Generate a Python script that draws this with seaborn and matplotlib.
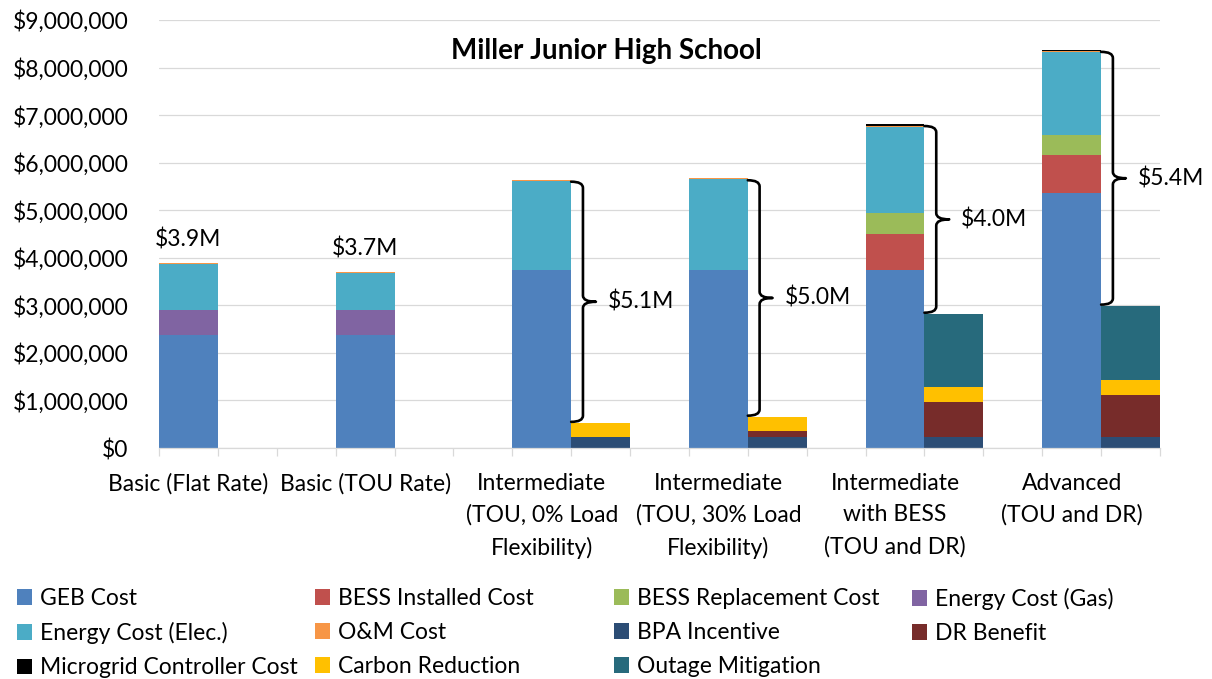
import numpy as np
import pandas as pd
import matplotlib
matplotlib.use("Agg")
import matplotlib.pyplot as plt
import seaborn as sns
from matplotlib.patches import Patch, PathPatch
from matplotlib.path import Path
from matplotlib.ticker import FuncFormatter

# ---------------- data (values in $ millions) ----------------
categories = [
    "Basic (Flat Rate)",
    "Basic (TOU Rate)",
    "Intermediate\n(TOU, 0% Load\nFlexibility)",
    "Intermediate\n(TOU, 30% Load\nFlexibility)",
    "Intermediate\nwith BESS\n(TOU and DR)",
    "Advanced\n(TOU and DR)",
]
title = "Miller Junior High School"

# cost stack (bottom -> top)
geb_cost = [2.376, 2.376, 3.74, 3.74, 3.74, 5.36]
bess_installed = [0, 0, 0, 0, 0.77, 0.80]
bess_replacement = [0, 0, 0, 0, 0.43, 0.42]
energy_gas = [0.52, 0.52, 0, 0, 0, 0]
energy_elec = [0.975, 0.78, 1.88, 1.91, 1.82, 1.74]
om_cost = [0.02, 0.02, 0.02, 0.02, 0.02, 0.02]
microgrid = [0, 0, 0, 0, 0.03, 0.03]

# benefit stack (bottom -> top)
bpa_incentive = [0, 0, 0.24, 0.24, 0.225, 0.225]
dr_benefit = [0, 0, 0, 0.12, 0.75, 0.90]
carbon_reduction = [0, 0, 0.29, 0.30, 0.31, 0.31]
outage_mitigation = [0, 0, 0, 0, 1.54, 1.56]

colors = {
    "GEB Cost": "#4F81BD",
    "BESS Installed Cost": "#C0504D",
    "BESS Replacement Cost": "#9BBB59",
    "Energy Cost (Gas)": "#8064A2",
    "Energy Cost (Elec.)": "#4BACC6",
    "O&M Cost": "#F79646",
    "BPA Incentive": "#2C4D75",
    "DR Benefit": "#772C2A",
    "Microgrid Controller Cost": "#000000",
    "Carbon Reduction": "#FFC000",
    "Outage Mitigation": "#276A7C",
}

cost_layers = [
    ("GEB Cost", geb_cost),
    ("BESS Installed Cost", bess_installed),
    ("BESS Replacement Cost", bess_replacement),
    ("Energy Cost (Gas)", energy_gas),
    ("Energy Cost (Elec.)", energy_elec),
    ("O&M Cost", om_cost),
    ("Microgrid Controller Cost", microgrid),
]
benefit_layers = [
    ("BPA Incentive", bpa_incentive),
    ("DR Benefit", dr_benefit),
    ("Carbon Reduction", carbon_reduction),
    ("Outage Mitigation", outage_mitigation),
]

# ---------------- style ----------------
sns.set_theme(style="white")
plt.rcParams["font.family"] = ["Lato", "DejaVu Sans"]
plt.rcParams["text.color"] = "#000000"
FS = 16.5

fig = plt.figure(figsize=(12.12, 6.79), dpi=100)
ax = fig.add_axes([159 / 1212, 1 - 448 / 679, 1001 / 1212, 428 / 679])

n = len(categories)
cost_x = np.arange(n) * 3 + 0.5
ben_x = cost_x + 1.0


def draw_stack(xpos, layers):
    cum = np.zeros(n)
    cums = []
    for name, vals in layers:
        cum = cum + np.asarray(vals, dtype=float) * 1e6
        cums.append((cum.copy(), colors[name]))
    for c, col in reversed(cums):
        df = pd.DataFrame({"x": xpos, "y": c})
        sns.barplot(data=df, x="x", y="y", native_scale=True, width=1 / 3,
                    color=col, saturation=1, errorbar=None, linewidth=0,
                    ax=ax)
    return cum


cost_tot = draw_stack(cost_x, cost_layers)
ben_tot = draw_stack(ben_x, benefit_layers)

ax.set_xlim(0, 17)
ax.set_ylim(0, 9e6)
ax.set_xlabel("")
ax.set_ylabel("")

# axes styling
for s in ["top", "right", "left"]:
    ax.spines[s].set_visible(False)
ax.spines["bottom"].set_color("#D9D9D9")
ax.spines["bottom"].set_linewidth(0.9)

ax.set_yticks(np.arange(0, 10) * 1e6)
ax.yaxis.set_major_formatter(FuncFormatter(lambda v, p: "${:,.0f}".format(v)))
ax.tick_params(axis="y", length=0, pad=22, labelsize=FS, labelcolor="#000000")
ax.yaxis.grid(True, color="#D9D9D9", linewidth=0.9)
ax.xaxis.grid(False)
ax.set_axisbelow(True)

ax.set_xticks(cost_x)
ax.set_xticklabels(categories)
ax.set_xticks(np.arange(0, 18), minor=True)
ax.tick_params(axis="x", which="major", length=0, pad=18, labelsize=FS,
               labelcolor="#000000")
ax.tick_params(axis="x", which="minor", bottom=True, length=6, width=0.9,
               color="#D9D9D9", direction="out")
for t in ax.get_xticklabels():
    t.set_linespacing(1.6)

# ---------------- net value annotations ----------------
for g in range(n):
    net = cost_tot[g] - ben_tot[g]
    lab = "${:.1f}M".format(net / 1e6)
    if ben_tot[g] <= 0:
        ax.annotate(lab, (cost_x[g], cost_tot[g]), xytext=(0, 9),
                    textcoords="offset points", ha="center", va="bottom",
                    fontsize=FS)
    else:
        top = cost_tot[g] - 0.04e6
        bot = ben_tot[g] + 0.02e6
        mid = (top + bot) / 2
        edge = cost_x[g] + 0.5
        x0, x1, x2 = edge, edge + 0.2, edge + 0.42
        r = 0.13e6
        verts = [(x0, top), (x1, top), (x1, top - r), (x1, mid + r),
                 (x1, mid), (x2, mid), (x1, mid), (x1, mid - r),
                 (x1, bot + r), (x1, bot), (x0, bot)]
        codes = [Path.MOVETO, Path.CURVE3, Path.CURVE3, Path.LINETO,
                 Path.CURVE3, Path.CURVE3, Path.CURVE3, Path.CURVE3,
                 Path.LINETO, Path.CURVE3, Path.CURVE3]
        ax.add_patch(PathPatch(Path(verts, codes), fill=False,
                               edgecolor="black", linewidth=1.9,
                               capstyle="round", joinstyle="round"))
        ax.text(edge + 0.62, mid, lab, ha="left", va="center", fontsize=FS)

# ---------------- title ----------------
fig.text(0.5, 1 - 51 / 679, title, ha="center", va="center",
         fontsize=20, fontweight="bold")

# ---------------- legend (4 equal-width columns) ----------------
legend_rows = [
    ["GEB Cost", "BESS Installed Cost", "BESS Replacement Cost", "Energy Cost (Gas)"],
    ["Energy Cost (Elec.)", "O&M Cost", "BPA Incentive", "DR Benefit"],
    ["Microgrid Controller Cost", "Carbon Reduction", "Outage Mitigation"],
]
col_x = [17, 315, 614, 912]
for ci, xpx in enumerate(col_x):
    names = [row[ci] for row in legend_rows if ci < len(row)]
    handles = [Patch(facecolor=colors[nm], edgecolor="none") for nm in names]
    fig.legend(handles, names, loc="upper left",
               bbox_to_anchor=(xpx / 1212, 1 - 588 / 679),
               frameon=False, fontsize=FS, borderpad=0, borderaxespad=0,
               handlelength=0.65, handleheight=0.65, handletextpad=0.35,
               labelspacing=0.57)

fig.savefig("out.png", dpi=100)
